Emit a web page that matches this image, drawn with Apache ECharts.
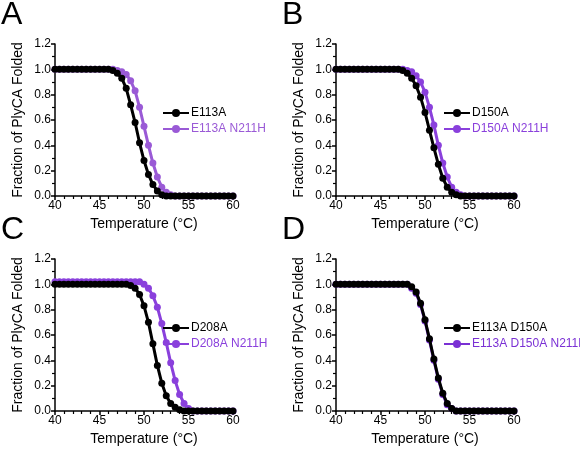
<!DOCTYPE html><html><head><meta charset="utf-8"><script src="https://cdn.jsdelivr.net/npm/echarts@6/dist/echarts.min.js"></script>
<style>html,body{margin:0;background:#fff}#c{width:580px;height:450px}</style></head><body><div id="c"></div><script>
const temps=[40,40.5,41,41.5,42,42.5,43,43.5,44,44.5,45,45.5,46,46.5,47,47.5,48,48.5,49,49.5,50,50.5,51,51.5,52,52.5,53,53.5,54,54.5,55,55.5,56,56.5,57,57.5,58,58.5,59,59.5,60];
const aBlack=[1,1,1,1,1,1,1,1,1,1,1,1,1,.99,.97,.93,.85,.72,.58,.42,.28,.17,.09,.04,.01,0,0,0,0,0,0,0,0,0,0,0,0,0,0,0,0];
const aPurple=[1,1,1,1,1,1,1,1,1,1,1,1,1,1,.99,.98,.96,.91,.83,.70,.55,.40,.26,.15,.07,.03,.01,0,0,0,0,0,0,0,0,0,0,0,0,0,0];
const bBlack=[1,1,1,1,1,1,1,1,1,1,1,1,1,1,1,.99,.97,.93,.87,.78,.66,.52,.38,.25,.14,.07,.03,.01,0,0,0,0,0,0,0,0,0,0,0,0,0];
const bPurple=[1,1,1,1,1,1,1,1,1,1,1,1,1,1,1,1,.99,.98,.95,.90,.82,.70,.56,.40,.26,.15,.07,.03,.01,0,0,0,0,0,0,0,0,0,0,0,0];
const cBlack=[1,1,1,1,1,1,1,1,1,1,1,1,1,1,1,1,1,.99,.97,.92,.83,.70,.53,.36,.22,.12,.06,.03,.01,0,0,0,0,0,0,0,0,0,0,0,0];
const cPurple=[1.02,1.02,1.02,1.02,1.02,1.02,1.02,1.02,1.02,1.02,1.02,1.02,1.02,1.02,1.02,1.02,1.02,1.02,1.02,1.02,1.0,.97,.91,.82,.69,.54,.38,.24,.13,.06,.02,0,0,0,0,0,0,0,0,0,0];
const dBlack=[1,1,1,1,1,1,1,1,1,1,1,1,1,1,1,1,1,.98,.94,.85,.72,.57,.41,.26,.14,.06,.02,0,0,0,0,0,0,0,0,0,0,0,0,0,0];
const dPurple=[1,1,1,1,1,1,1,1,1,1,1,1,1,1,1,1,1,.97,.93,.84,.71,.56,.40,.25,.13,.05,.02,0,0,0,0,0,0,0,0,0,0,0,0,0,0];
const names=[["E113A","E113A N211H"],["D150A","D150A N211H"],["D208A","D208A N211H"],["E113A D150A","E113A D150A N211H"]];
const letters=["A","B","C","D"];
const purples=["#9a5ad6","#8a40dc","#8a40dc","#7a30d4"];
const sets=[[aBlack,aPurple],[bBlack,bPurple],[cBlack,cPurple],[dBlack,dPurple]];
const F="Liberation Sans, Arial, sans-serif";
const pos=[[55,44],[336,44],[55,259],[336,259]];
const W=178,H=152;
const grid=[],xAxis=[],yAxis=[],series=[],legend=[],graphic=[];
pos.forEach((p,i)=>{
 grid.push({left:p[0],top:p[1],width:W,height:H});
 xAxis.push({gridIndex:i,type:'value',min:40,max:60,interval:5,name:'Temperature (°C)',nameLocation:'middle',nameGap:21,
  nameTextStyle:{fontSize:14,color:'#000',fontFamily:F},axisLine:{lineStyle:{color:'#000',width:1.5}},
  axisTick:{length:4,lineStyle:{color:'#000',width:1.5}},minorTick:{show:true,splitNumber:5,length:3,lineStyle:{color:'#000',width:1.2}},
  axisLabel:{fontSize:12,color:'#000',margin:4,fontFamily:F},splitLine:{show:false}});
 yAxis.push({gridIndex:i,type:'value',min:0,max:1.2,interval:0.2,name:'Fraction of PlyCA Folded',nameLocation:'middle',nameGap:30,
  nameTextStyle:{fontSize:14,color:'#000',fontFamily:F},axisLine:{show:true,lineStyle:{color:'#000',width:1.5}},
  axisTick:{show:true,length:4,lineStyle:{color:'#000',width:1.5}},minorTick:{show:true,splitNumber:2,length:3,lineStyle:{color:'#000',width:1.2}},
  axisLabel:{fontSize:12,color:'#000',margin:4,fontFamily:F,formatter:v=>v.toFixed(1)},splitLine:{show:false}});
 const cols=['#000',purples[i]];
 const order=i===3?[1,0]:[0,1];
 order.forEach(k=>{
  series.push({type:'line',name:names[i][k],xAxisIndex:i,yAxisIndex:i,data:temps.map((t,j)=>[t,sets[i][k][j]]),
   symbol:'circle',symbolSize:7,showSymbol:true,lineStyle:{width:3,color:cols[k]},itemStyle:{color:cols[k]},z:k===0?3:2});
 });
 legend.push({left:p[0]+102,top:p[1]+58,orient:'vertical',itemGap:4,itemWidth:26,itemHeight:10,
  data:[{name:names[i][0],textStyle:{color:'#000'}},{name:names[i][1],textStyle:{color:purples[i]}}],
  textStyle:{fontSize:12,fontFamily:F,padding:[0,0,0,-3]}});
 graphic.push({type:'text',left:p[0]-54,top:p[1]-45,style:{text:letters[i],fontSize:32,fontFamily:F,fill:'#000'}});
});
const ch=echarts.init(document.getElementById('c'));
ch.setOption({animation:false,grid,xAxis,yAxis,series,legend,graphic});
</script></body></html>
